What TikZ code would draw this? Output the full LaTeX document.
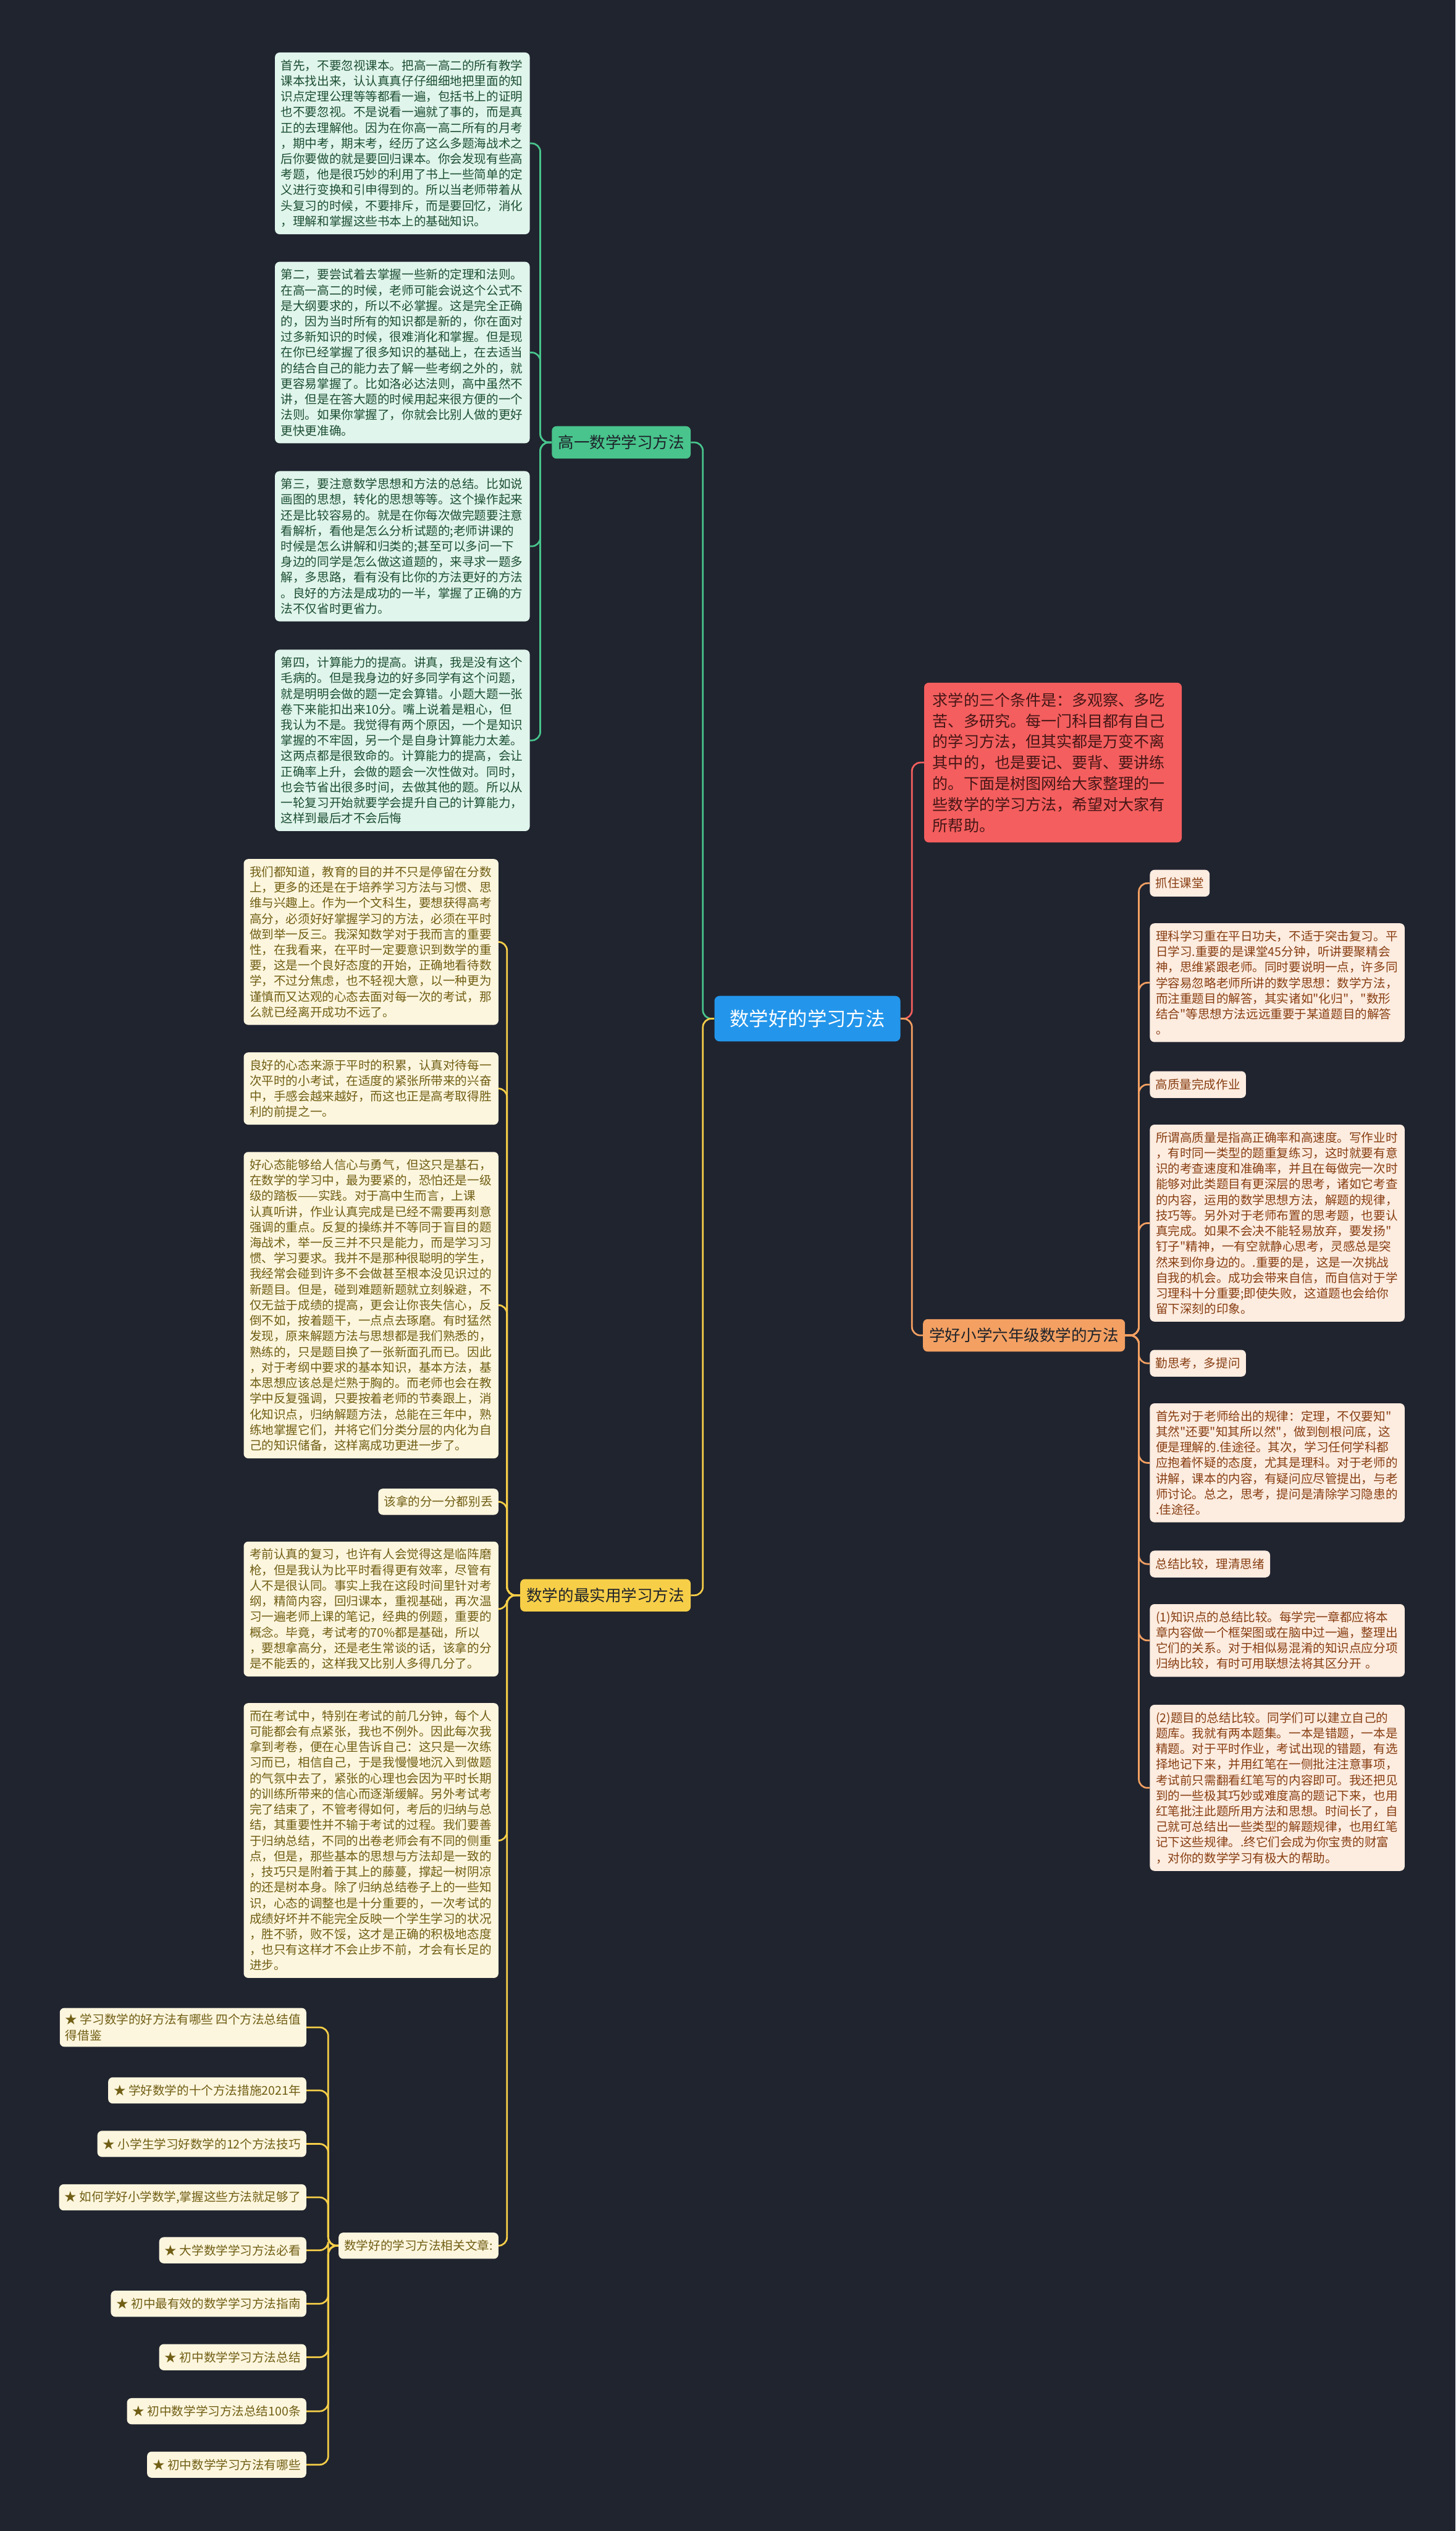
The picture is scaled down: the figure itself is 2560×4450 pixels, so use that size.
\documentclass[tikz,border=0pt]{standalone}
\usepackage{fontspec}
\setmainfont{Noto Sans CJK SC}[Ligatures=TeXOff]
\usepackage{xcolor}
\usetikzlibrary{positioning,calc}

\definecolor{bgc}{RGB}{32,36,47}
\definecolor{rootc}{RGB}{35,150,235}
\definecolor{grnc}{RGB}{72,196,140}
\definecolor{redc}{RGB}{244,94,94}
\definecolor{orgc}{RGB}{243,160,98}
\definecolor{ylwc}{RGB}{246,206,72}
\definecolor{hubfg}{RGB}{30,34,42}
\definecolor{mintbg}{RGB}{224,245,236}
\definecolor{mintfg}{RGB}{28,78,50}
\definecolor{peachbg}{RGB}{253,236,224}
\definecolor{peachfg}{RGB}{135,62,18}
\definecolor{creambg}{RGB}{253,246,222}
\definecolor{creamfg}{RGB}{112,94,20}
\definecolor{redfg}{RGB}{70,22,22}

\begin{document}
\begin{tikzpicture}[
  x=0.2mm, y=-0.2mm,
  every node/.style = {font=\fontsize{12.1pt}{15.6pt}\selectfont},
  box/.style   = {rounded corners=1.6mm, align=left,
                  inner xsep=2.1mm, inner ysep=2.5mm},
  para/.style  = {box, text width=85.4mm},
  mint/.style  = {para, fill=mintbg,  text=mintfg},
  peach/.style = {para, fill=peachbg, text=peachfg},
  cream/.style = {para, fill=creambg, text=creamfg},
  tag/.style   = {box, inner xsep=2mm, minimum height=9.4mm},
  ptag/.style  = {tag, fill=peachbg, text=peachfg},
  ctag/.style  = {tag, fill=creambg, text=creamfg, minimum height=9.2mm, inner ysep=2.1mm},
  hub/.style   = {rounded corners=1.6mm, text=hubfg, inner xsep=2.2mm,
                  minimum height=11.4mm, font=\fontsize{15.8pt}{19pt}\selectfont},
  root/.style  = {rounded corners=1.8mm, fill=rootc, text=white,
                  minimum width=65.4mm, minimum height=16mm,
                  font=\fontsize{19.4pt}{23pt}\selectfont},
  link/.style  = {line width=1.7pt, rounded corners=3mm},
  glink/.style = {link, grnc},
  rlink/.style = {link, redc},
  olink/.style = {link, orgc},
  ylink/.style = {link, ylwc}
]

\useasboundingbox (0,0) rectangle (2560,4450);
\fill[bgc] (0,0) rectangle (2560,4450);

\node[root] (root) at (1420,1791) {数学好的学习方法};

\node[hub, fill=grnc, anchor=north east] (g1)  at (1215,749)  {高一数学学习方法};
\node[hub, fill=orgc, anchor=north west] (six) at (1623,2319) {学好小学六年级数学的方法};
\node[hub, fill=ylwc, anchor=north east] (prac) at (1215,2776) {数学的最实用学习方法};

\node[box, fill=redc, text=redfg, anchor=north west, text width=84.6mm,
      inner xsep=3mm, inner ysep=3.5mm, font=\fontsize{15.5pt}{20.9pt}\selectfont] (intro) at (1625,1200)
  {求学的三个条件是：多观察、多吃\\苦、多研究。每一门科目都有自己\\的学习方法，但其实都是万变不离\\其中的，也是要记、要背、要讲练\\的。下面是树图网给大家整理的一\\些数学的学习方法，希望对大家有\\所帮助。};

\draw[glink] (root.west) -- ++(-20,0) |- (g1.east);
\draw[ylink] (root.west) -- ++(-20,0) |- (prac.east);
\draw[rlink] (root.east) -- ++(20,0) |- (intro.west);
\draw[olink] (root.east) -- ++(20,0) |- (six.west);

\node[mint, anchor=north east] (p1) at (932,92)
  {首先，不要忽视课本。把高一高二的所有教学\\课本找出来，认认真真仔仔细细地把里面的知\\识点定理公理等等都看一遍，包括书上的证明\\也不要忽视。不是说看一遍就了事的，而是真\\正的去理解他。因为在你高一高二所有的月考\\，期中考，期末考，经历了这么多题海战术之\\后你要做的就是要回归课本。你会发现有些高\\考题，他是很巧妙的利用了书上一些简单的定\\义进行变换和引申得到的。所以当老师带着从\\头复习的时候，不要排斥，而是要回忆，消化\\，理解和掌握这些书本上的基础知识。};
\node[mint, anchor=north east] (p2) at (932,460)
  {第二，要尝试着去掌握一些新的定理和法则。\\在高一高二的时候，老师可能会说这个公式不\\是大纲要求的，所以不必掌握。这是完全正确\\的，因为当时所有的知识都是新的，你在面对\\过多新知识的时候，很难消化和掌握。但是现\\在你已经掌握了很多知识的基础上，在去适当\\的结合自己的能力去了解一些考纲之外的，就\\更容易掌握了。比如洛必达法则，高中虽然不\\讲，但是在答大题的时候用起来很方便的一个\\法则。如果你掌握了，你就会比别人做的更好\\更快更准确。};
\node[mint, anchor=north east] (p3) at (932,828)
  {第三，要注意数学思想和方法的总结。比如说\\画图的思想，转化的思想等等。这个操作起来\\还是比较容易的。就是在你每次做完题要注意\\看解析，看他是怎么分析试题的;老师讲课的\\时候是怎么讲解和归类的;甚至可以多问一下\\身边的同学是怎么做这道题的，来寻求一题多\\解，多思路，看有没有比你的方法更好的方法\\。良好的方法是成功的一半，掌握了正确的方\\法不仅省时更省力。};
\node[mint, anchor=north east] (p4) at (932,1142)
  {第四，计算能力的提高。讲真，我是没有这个\\毛病的。但是我身边的好多同学有这个问题，\\就是明明会做的题一定会算错。小题大题一张\\卷下来能扣出来10分。嘴上说着是粗心，但\\我认为不是。我觉得有两个原因，一个是知识\\掌握的不牢固，另一个是自身计算能力太差。\\这两点都是很致命的。计算能力的提高，会让\\正确率上升，会做的题会一次性做对。同时，\\也会节省出很多时间，去做其他的题。所以从\\一轮复习开始就要学会提升自己的计算能力，\\这样到最后才不会后悔};

\foreach \n in {p1,p2,p3,p4}
  \draw[glink] (g1.west) -- ++(-20,0) |- (\n.east);

\node[ptag, anchor=north west] (c1) at (2022,1529) {抓住课堂};
\node[peach, anchor=north west] (c2) at (2022,1623)
  {理科学习重在平日功夫，不适于突击复习。平\\日学习.重要的是课堂45分钟，听讲要聚精会\\神，思维紧跟老师。同时要说明一点，许多同\\学容易忽略老师所讲的数学思想：数学方法，\\而注重题目的解答，其实诸如"化归"，"数形\\结合"等思想方法远远重要于某道题目的解答\\。};
\node[ptag, anchor=north west] (c3) at (2022,1883) {高质量完成作业};
\node[peach, anchor=north west] (c4) at (2022,1977)
  {所谓高质量是指高正确率和高速度。写作业时\\，有时同一类型的题重复练习，这时就要有意\\识的考查速度和准确率，并且在每做完一次时\\能够对此类题目有更深层的思考，诸如它考查\\的内容，运用的数学思想方法，解题的规律，\\技巧等。另外对于老师布置的思考题，也要认\\真完成。如果不会决不能轻易放弃，要发扬"\\钉子"精神，一有空就静心思考，灵感总是突\\然来到你身边的。.重要的是，这是一次挑战\\自我的机会。成功会带来自信，而自信对于学\\习理科十分重要;即使失败，这道题也会给你\\留下深刻的印象。};
\node[ptag, anchor=north west] (c5) at (2022,2373) {勤思考，多提问};
\node[peach, anchor=north west] (c6) at (2022,2467)
  {首先对于老师给出的规律：定理，不仅要知"\\其然"还要"知其所以然"，做到刨根问底，这\\便是理解的.佳途径。其次，学习任何学科都\\应抱着怀疑的态度，尤其是理科。对于老师的\\讲解，课本的内容，有疑问应尽管提出，与老\\师讨论。总之，思考，提问是清除学习隐患的\\.佳途径。};
\node[ptag, anchor=north west] (c7) at (2022,2726) {总结比较，理清思绪};
\node[peach, anchor=north west] (c8) at (2022,2820)
  {(1)知识点的总结比较。每学完一章都应将本\\章内容做一个框架图或在脑中过一遍，整理出\\它们的关系。对于相似易混淆的知识点应分项\\归纳比较，有时可用联想法将其区分开 。};
\node[peach, anchor=north west] (c9) at (2022,2997)
  {(2)题目的总结比较。同学们可以建立自己的\\题库。我就有两本题集。一本是错题，一本是\\精题。对于平时作业，考试出现的错题，有选\\择地记下来，并用红笔在一侧批注注意事项，\\考试前只需翻看红笔写的内容即可。我还把见\\到的一些极其巧妙或难度高的题记下来，也用\\红笔批注此题所用方法和思想。时间长了，自\\己就可总结出一些类型的解题规律，也用红笔\\记下这些规律。.终它们会成为你宝贵的财富\\，对你的数学学习有极大的帮助。};

\foreach \n in {c1,c2,c3,c4,c5,c6,c7,c8,c9}
  \draw[olink] (six.east) -- ++(24,0) |- (\n.west);

\node[cream, anchor=north east] (y1) at (877,1510)
  {我们都知道，教育的目的并不只是停留在分数\\上，更多的还是在于培养学习方法与习惯、思\\维与兴趣上。作为一个文科生，要想获得高考\\高分，必须好好掌握学习的方法，必须在平时\\做到举一反三。我深知数学对于我而言的重要\\性，在我看来，在平时一定要意识到数学的重\\要，这是一个良好态度的开始，正确地看待数\\学，不过分焦虑，也不轻视大意，以一种更为\\谨慎而又达观的心态去面对每一次的考试，那\\么就已经离开成功不远了。};
\node[cream, anchor=north east] (y2) at (877,1850)
  {良好的心态来源于平时的积累，认真对待每一\\次平时的小考试，在适度的紧张所带来的兴奋\\中，手感会越来越好，而这也正是高考取得胜\\利的前提之一。};
\node[cream, anchor=north east] (y3) at (877,2025)
  {好心态能够给人信心与勇气，但这只是基石，\\在数学的学习中，最为要紧的，恐怕还是一级\\级的踏板——实践。对于高中生而言，上课\\认真听讲，作业认真完成是已经不需要再刻意\\强调的重点。反复的操练并不等同于盲目的题\\海战术，举一反三并不只是能力，而是学习习\\惯、学习要求。我并不是那种很聪明的学生，\\我经常会碰到许多不会做甚至根本没见识过的\\新题目。但是，碰到难题新题就立刻躲避，不\\仅无益于成绩的提高，更会让你丧失信心，反\\倒不如，按着题干，一点点去琢磨。有时猛然\\发现，原来解题方法与思想都是我们熟悉的，\\熟练的，只是题目换了一张新面孔而已。因此\\，对于考纲中要求的基本知识，基本方法，基\\本思想应该总是烂熟于胸的。而老师也会在教\\学中反复强调，只要按着老师的节奏跟上，消\\化知识点，归纳解题方法，总能在三年中，熟\\练地掌握它们，并将它们分类分层的内化为自\\己的知识储备，这样离成功更进一步了。};
\node[ctag, anchor=north east] (y4) at (877,2617) {该拿的分一分都别丢};
\node[cream, anchor=north east] (y5) at (877,2710)
  {考前认真的复习，也许有人会觉得这是临阵磨\\枪，但是我认为比平时看得更有效率，尽管有\\人不是很认同。事实上我在这段时间里针对考\\纲，精简内容，回归课本，重视基础，再次温\\习一遍老师上课的笔记，经典的例题，重要的\\概念。毕竟，考试考的70\%都是基础，所以\\，要想拿高分，还是老生常谈的话，该拿的分\\是不能丢的，这样我又比别人多得几分了。};
\node[cream, anchor=north east] (y6) at (877,2994)
  {而在考试中，特别在考试的前几分钟，每个人\\可能都会有点紧张，我也不例外。因此每次我\\拿到考卷，便在心里告诉自己：这只是一次练\\习而已，相信自己，于是我慢慢地沉入到做题\\的气氛中去了，紧张的心理也会因为平时长期\\的训练所带来的信心而逐渐缓解。另外考试考\\完了结束了，不管考得如何，考后的归纳与总\\结，其重要性并不输于考试的过程。我们要善\\于归纳总结，不同的出卷老师会有不同的侧重\\点，但是，那些基本的思想与方法却是一致的\\，技巧只是附着于其上的藤蔓，撑起一树阴凉\\的还是树本身。除了归纳总结卷子上的一些知\\识，心态的调整也是十分重要的，一次考试的\\成绩好坏并不能完全反映一个学生学习的状况\\，胜不骄，败不馁，这才是正确的积极地态度\\，也只有这样才不会止步不前，才会有长足的\\进步。};
\node[ctag, anchor=north east] (art) at (877,3925) {数学好的学习方法相关文章:};

\foreach \n in {y1,y2,y3,y4,y5,y6,art}
  \draw[ylink] (prac.west) -- ++(-23,0) |- (\n.east);

\node[ctag, anchor=north east] (a1) at (539,3530) {★ 学习数学的好方法有哪些 四个方法总结值\\得借鉴};
\node[ctag, anchor=north east] (a2) at (539,3652) {★ 学好数学的十个方法措施2021年};
\node[ctag, anchor=north east] (a3) at (539,3746) {★ 小学生学习好数学的12个方法技巧};
\node[ctag, anchor=north east] (a4) at (539,3840) {★ 如何学好小学数学,掌握这些方法就足够了};
\node[ctag, anchor=north east] (a5) at (539,3933) {★ 大学数学学习方法必看};
\node[ctag, anchor=north east] (a6) at (539,4027) {★ 初中最有效的数学学习方法指南};
\node[ctag, anchor=north east] (a7) at (539,4121) {★ 初中数学学习方法总结};
\node[ctag, anchor=north east] (a8) at (539,4216) {★ 初中数学学习方法总结100条};
\node[ctag, anchor=north east] (a9) at (539,4310) {★ 初中数学学习方法有哪些};

\foreach \n in {a1,a2,a3,a4,a5,a6,a7,a8,a9}
  \draw[ylink] (art.west) -- ++(-18,0) |- (\n.east);

\end{tikzpicture}
\end{document}
